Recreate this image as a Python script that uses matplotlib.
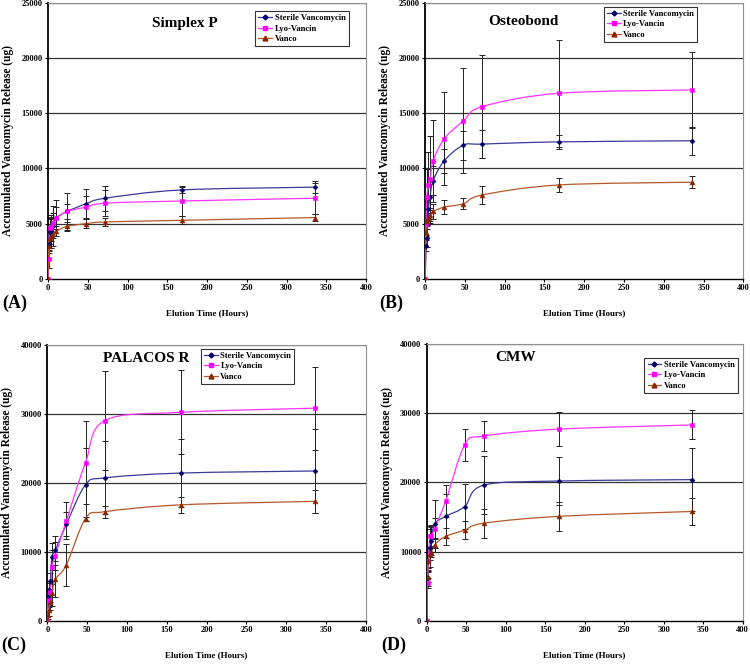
import numpy as np
import matplotlib
matplotlib.use("Agg")
import matplotlib.pyplot as plt
from matplotlib.path import Path
from matplotlib.patches import PathPatch

plt.rcParams['font.family'] = ['Liberation Serif', 'DejaVu Serif']
plt.rcParams['font.weight'] = 'bold'

hours = [0, 1, 2, 4, 6, 10, 24, 48, 72, 168, 336]
series_names = ["Sterile Vancomycin", "Lyo-Vancin", "Vanco"]

# Panel A: Simplex P
a_sterile = [0, 3200, 4200, 4300, 4800, 5500, 6100, 6800, 7300, 8050, 8300]
a_sterile_err = [0, 900, 1200, 1500, 1800, 1600, 1650, 1350, 1150, 300, 550]
a_lyo = [0, 1800, 4600, 4700, 5100, 5500, 6100, 6500, 6850, 7050, 7300]
a_lyo_err = [0, 800, 900, 900, 900, 1000, 700, 1000, 1200, 1350, 1400]
a_vanco = [0, 3000, 3700, 3800, 4100, 4300, 4750, 5000, 5150, 5300, 5550]
a_vanco_err = [0, 500, 500, 400, 400, 450, 400, 400, 400, 350, 300]

# Panel B: Osteobond
b_sterile = [0, 3000, 3700, 6300, 7400, 8900, 10700, 12100, 12200, 12400, 12500]
b_sterile_err = [0, 500, 800, 1000, 1200, 1300, 1100, 1300, 1250, 600, 1250]
b_lyo = [0, 5000, 7400, 8500, 9000, 10700, 12700, 14300, 15600, 16800, 17100]
b_lyo_err = [0, 1000, 2500, 3000, 3900, 3700, 4200, 4750, 4700, 4850, 3450]
b_vanco = [0, 4200, 5200, 5500, 5800, 6100, 6500, 6800, 7600, 8500, 8750]
b_vanco_err = [0, 300, 400, 500, 600, 650, 600, 500, 800, 600, 550]

# Panel C: PALACOS R
c_sterile = [0, 3500, 4500, 5800, 9300, 10200, 14000, 19700, 20700, 21400, 21700]
c_sterile_err = [0, 800, 1000, 1200, 2000, 2100, 1700, 5300, 5300, 4900, 6100]
c_lyo = [0, 2900, 3000, 4200, 7800, 9400, 14500, 22900, 29000, 30200, 30800]
c_lyo_err = [0, 700, 1000, 1500, 2500, 2000, 2700, 6000, 7200, 6100, 6000]
c_vanco = [0, 800, 1500, 2800, 4000, 6000, 8100, 14800, 15800, 16800, 17300]
c_vanco_err = [0, 500, 800, 1200, 1800, 2600, 3000, 300, 900, 1200, 1700]

# Panel D: CMW
d_sterile = [0, 6200, 8600, 10500, 11500, 14000, 15100, 16500, 19600, 20200, 20400]
d_sterile_err = [0, 1200, 1500, 2700, 2000, 3500, 3200, 3300, 4200, 3500, 4600]
d_lyo = [0, 5500, 8600, 12200, 12300, 13300, 17300, 25400, 26700, 27700, 28300]
d_lyo_err = [0, 700, 1000, 1500, 1500, 1500, 2300, 2300, 2200, 2500, 2100]
d_vanco = [0, 6400, 8600, 9700, 10000, 11000, 12200, 13100, 14100, 15100, 15800]
d_vanco_err = [0, 800, 900, 900, 800, 1000, 1200, 1300, 2100, 2100, 2000]

titles = ["Simplex P", "Osteobond", "PALACOS R", "CMW"]
letters = ["(A)", "(B)", "(C)", "(D)"]
ymaxes = [25000, 25000, 40000, 40000]
ysteps = [5000, 5000, 10000, 10000]

line_colors = ["#3A3A9A", "#FF33FF", "#B5582A"]
marker_colors = ["#000066", "#FF00FF", "#8B2500"]
markers = ["D", "s", "^"]
msizes = [2.5, 3.5, 3.5]

panels = [
    (a_sterile, a_sterile_err, a_lyo, a_lyo_err, a_vanco, a_vanco_err),
    (b_sterile, b_sterile_err, b_lyo, b_lyo_err, b_vanco, b_vanco_err),
    (c_sterile, c_sterile_err, c_lyo, c_lyo_err, c_vanco, c_vanco_err),
    (d_sterile, d_sterile_err, d_lyo, d_lyo_err, d_vanco, d_vanco_err),
]

positions = [
    [0.064, 0.580, 0.424, 0.416],
    [0.567, 0.580, 0.424, 0.416],
    [0.063, 0.065, 0.425, 0.416],
    [0.569, 0.065, 0.421, 0.417],
]
title_pos = [(0.43, 0.925), (0.31, 0.93), (0.31, 0.95), (0.28, 0.952)]
legend_pos = [(0.945, 0.97), (0.855, 0.985), (0.775, 0.985), (0.985, 0.95)]


def smooth_path(ax, xs, ys):
    # Catmull-Rom style smoothing drawn as Bezier curves, computed in display space
    pts = ax.transData.transform(np.column_stack([xs, ys]))
    n = len(pts)
    verts = [pts[0]]
    codes = [Path.MOVETO]
    t = 1.0 / 6.0
    for i in range(n - 1):
        p0 = pts[i - 1] if i > 0 else pts[i]
        p1 = pts[i]
        p2 = pts[i + 1]
        p3 = pts[i + 2] if i + 2 < n else pts[i + 1]
        c1 = p1 + (p2 - p0) * t
        c2 = p2 - (p3 - p1) * t
        verts += [c1, c2, p2]
        codes += [Path.CURVE4] * 3
    return Path(verts, codes)


fig = plt.figure(figsize=(7.5, 6.64), dpi=100)
for k, data in enumerate(panels):
    ax = fig.add_axes(positions[k])
    ax.set_xlim(0, 400)
    ax.set_ylim(0, ymaxes[k])
    ax.set_xticks(range(0, 401, 50))
    ax.set_yticks(range(0, ymaxes[k] + 1, ysteps[k]))
    ax.tick_params(labelsize=6, length=2.5, width=0.8, pad=1.5)
    for lab in ax.get_xticklabels() + ax.get_yticklabels():
        lab.set_fontweight('bold')
    for yv in range(ysteps[k], ymaxes[k] + 1, ysteps[k]):
        ax.axhline(yv, color="#333333", lw=0.9, zorder=0)
    ax.spines['left'].set_color('black')
    ax.spines['left'].set_linewidth(1.3)
    ax.spines['bottom'].set_color('black')
    ax.spines['bottom'].set_linewidth(1.0)
    ax.spines['right'].set_color('#909090')
    ax.spines['top'].set_color('#909090')
    fig.canvas.draw()
    handles = []
    for s in range(3):
        vals = data[2 * s]
        errs = data[2 * s + 1]
        ax.errorbar(hours, vals, yerr=errs, fmt='none', ecolor='#222222',
                    elinewidth=0.7, capsize=2, capthick=0.7, zorder=2)
        p = smooth_path(ax, hours, vals)
        patch = PathPatch(p, facecolor='none', edgecolor=line_colors[s], lw=0.9,
                          transform=None, zorder=3)
        patch.set_clip_box(ax.bbox)
        ax.add_artist(patch)
        ax.plot(hours, vals, linestyle='none', marker=markers[s], ms=msizes[s],
                color=marker_colors[s], markeredgewidth=0.4, zorder=4)
        h, = ax.plot([], [], color=line_colors[s], lw=0.9, marker=markers[s],
                     ms=msizes[s], markerfacecolor=marker_colors[s],
                     markeredgecolor=marker_colors[s])
        handles.append(h)
    leg = ax.legend(handles, series_names, loc='upper right', bbox_to_anchor=legend_pos[k],
                    fontsize=6.2, frameon=True, fancybox=False, edgecolor='black',
                    borderpad=0.35, handlelength=1.6, labelspacing=0.3, handletextpad=0.3,
                    borderaxespad=0)
    leg.get_frame().set_linewidth(0.8)
    for txt in leg.get_texts():
        txt.set_fontweight('bold')
    ax.text(title_pos[k][0], title_pos[k][1], titles[k], transform=ax.transAxes,
            fontsize=11, fontweight='bold', ha='center', va='center')
    ax.set_xlabel("Elution Time (Hours)", fontsize=6.5, fontweight='bold', labelpad=12)
    ax.set_ylabel("Accumulated Vancomycin Release (ug)", fontsize=8.3, fontweight='bold', labelpad=5)
    ax.text(-0.145, -0.09, letters[k], transform=ax.transAxes, fontsize=13,
            fontweight='bold', ha='left', va='center')

fig.savefig("out.png", dpi=100)
